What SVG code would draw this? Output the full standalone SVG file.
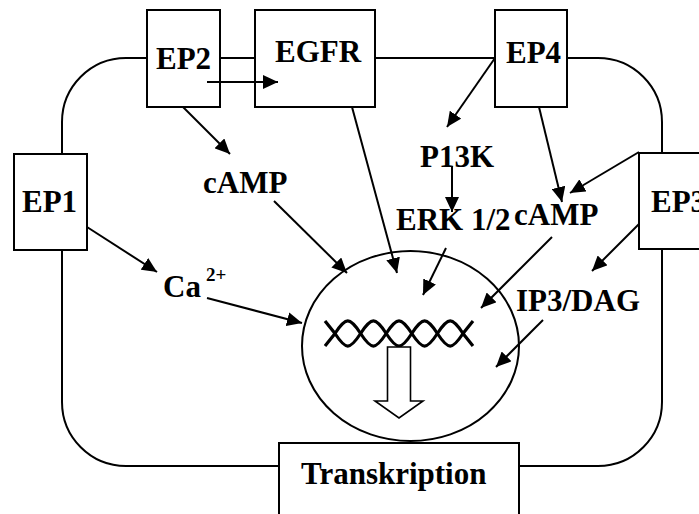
<svg xmlns="http://www.w3.org/2000/svg" width="699" height="514" viewBox="0 0 699 514">
<style>
.ln{fill:none;stroke:#000;stroke-width:2}
.box{fill:#fff;stroke:#000;stroke-width:2}
.t{font-family:"Liberation Serif","Times New Roman",serif;font-weight:bold;font-size:31px;fill:#000}
.arr{fill:none;stroke:#000;stroke-width:2;marker-end:url(#ah)}
.dna{fill:none;stroke:#000;stroke-width:3.2}
</style>
<defs>
<marker id="ah" viewBox="0 0 15 14" markerWidth="15" markerHeight="14" refX="15" refY="7" orient="auto" markerUnits="userSpaceOnUse">
<path d="M0,0 L15,7 L0,14 z" fill="#000"/>
</marker>
</defs>
<rect fill="#fff" width="699" height="514"/>
<g id="cell">
<rect class="ln" x="62" y="58" width="600" height="408" rx="64" ry="64"/>
</g>
<g id="nucleus">
<ellipse class="ln" cx="410.5" cy="346" rx="108.5" ry="95"/>
<path class="dna" d="M325,321 L335,333.5 C345.9,350.2 349.7,350.2 360.6,333.5 C371.5,316.8 375.3,316.8 386.2,333.5 C397.1,350.2 400.9,350.2 411.8,333.5 C422.7,316.8 426.5,316.8 437.4,333.5 C448.3,350.2 452.1,350.2 463,333.5 L473,321"/>
<path class="dna" d="M325,346 L335,333.5 C345.9,316.8 349.7,316.8 360.6,333.5 C371.5,350.2 375.3,350.2 386.2,333.5 C397.1,316.8 400.9,316.8 411.8,333.5 C422.7,350.2 426.5,350.2 437.4,333.5 C448.3,316.8 452.1,316.8 463,333.5 L473,346"/>
<polygon fill="#fff" stroke="#000" stroke-width="1.6" points="387.5,347 410.5,347 410.5,401 423,401 399,418 375,401 387.5,401"/>
</g>
<g id="EP2"><rect class="box" x="147" y="10" width="73" height="97"/><text class="t" x="156" y="69">EP2</text></g>
<g id="EGFR"><rect class="box" x="255" y="10" width="120" height="97"/><text class="t" x="275" y="62">EGFR</text></g>
<g id="EP4"><rect class="box" x="495" y="10" width="72" height="97"/><text class="t" x="506" y="63">EP4</text></g>
<g id="EP1"><rect class="box" x="14" y="154" width="73" height="96"/><text class="t" x="22" y="212">EP1</text></g>
<g id="EP3"><rect class="box" x="639" y="153" width="73" height="96"/><text class="t" x="651" y="212">EP3</text></g>
<g id="Transkription"><rect class="box" x="279" y="443" width="240" height="80"/><text class="t" x="301" y="484">Transkription</text></g>
<g id="cAMP1"><text class="t" x="203" y="193">cAMP</text></g>
<g id="P13K"><text class="t" x="420" y="167">P13K</text></g>
<g id="ERK"><text class="t" x="396" y="230">ERK 1/2</text></g>
<g id="cAMP2"><text class="t" x="514" y="225">cAMP</text></g>
<g id="Ca"><text class="t" x="163" y="297">Ca<tspan x="206" y="281" font-size="19">2+</tspan></text></g>
<g id="IP3DAG"><text class="t" x="516" y="311">IP3/DAG</text></g>
<g id="connectors">
<line class="arr" x1="207" y1="82" x2="278" y2="82"/>
<line class="arr" x1="183" y1="107" x2="230" y2="154"/>
<line class="arr" x1="87" y1="227" x2="157" y2="272"/>
<line class="arr" x1="207" y1="298" x2="302" y2="323"/>
<line class="arr" x1="274" y1="201" x2="347" y2="273"/>
<line class="arr" x1="352" y1="107" x2="397" y2="273"/>
<line class="arr" x1="495" y1="58" x2="447" y2="127"/>
<line class="arr" x1="452" y1="166" x2="452" y2="212"/>
<line class="arr" x1="446" y1="248" x2="423" y2="295"/>
<line class="arr" x1="539" y1="107" x2="562" y2="202"/>
<line class="arr" x1="639" y1="152" x2="570" y2="193"/>
<line class="arr" x1="552" y1="237" x2="481" y2="308"/>
<line class="arr" x1="639" y1="224" x2="592" y2="271"/>
<line class="arr" x1="543" y1="320" x2="496" y2="367"/>
</g>
</svg>
